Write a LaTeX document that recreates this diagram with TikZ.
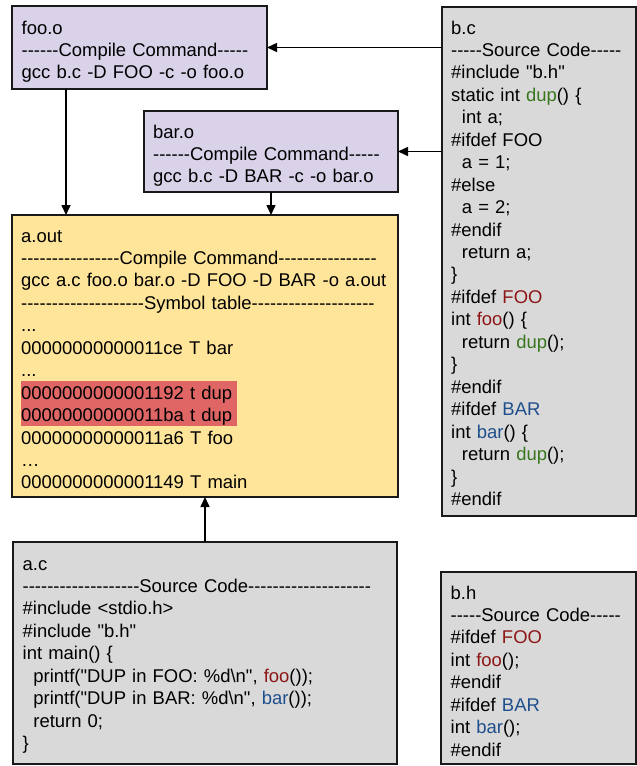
\documentclass[tikz,border=0pt]{standalone}
\usepackage{fontspec}
\setmainfont{Liberation Sans}[Ligatures=TeXOff]
\usetikzlibrary{arrows.meta,calc}
\definecolor{lav}{HTML}{D9D2E9}
\definecolor{yel}{HTML}{FFE599}
\definecolor{gry}{HTML}{D9D9D9}
\definecolor{hlred}{HTML}{E06666}
\definecolor{kred}{HTML}{8E1515}
\definecolor{kblue}{HTML}{1F4E8C}
\definecolor{kgreen}{HTML}{38761D}
\newcommand{\ind}{\hspace*{0.58em}}
\newcommand{\R}[1]{\textcolor{kred}{#1}}
\newcommand{\B}[1]{\textcolor{kblue}{#1}}
\newcommand{\G}[1]{\textcolor{kgreen}{#1}}
\begin{document}
\begin{tikzpicture}[x=1pt,y=-1pt,
  box/.style={draw=black!90,line width=1.6pt,rectangle,inner sep=0pt,outer sep=0pt},
  txt/.style={anchor=base west,inner sep=0pt,align=left,text width=#1,
    font=\fontsize{18.45}{22.45}\selectfont},
  arr/.style={line width=1.5pt,-{Triangle[length=10pt,width=9pt]}}]
\useasboundingbox (0,0) rectangle (637,766);
% boxes
\path[box,fill=lav] (12,6) rectangle (267,89) node[pos=0.5,inner sep=0,outer sep=0,minimum width=255pt,minimum height=83pt] (fooo) {};
\path[box,fill=lav] (144,111) rectangle (398,192) node[pos=0.5,inner sep=0,outer sep=0,minimum width=254pt,minimum height=81pt] (baro) {};
\path[box,fill=gry] (442,7) rectangle (636,516) node[pos=0.5,inner sep=0,outer sep=0,minimum width=194pt,minimum height=509pt] (bc) {};
\path[box,fill=yel] (12,215) rectangle (398,497) node[pos=0.5,inner sep=0,outer sep=0,minimum width=386pt,minimum height=282pt] (aout) {};
\path[box,fill=gry] (13,542) rectangle (397,764) node[pos=0.5,inner sep=0,outer sep=0,minimum width=384pt,minimum height=222pt] (ac) {};
\path[box,fill=gry] (441,572) rectangle (636,764) node[pos=0.5,inner sep=0,outer sep=0,minimum width=195pt,minimum height=192pt] (bh) {};
% highlight
\fill[hlred] (21,381) rectangle (237,426) node[pos=0.5,inner sep=0] (hl) {};
% texts
\node[txt=250pt] (foot) at (21.5,34) {foo.o\\------Compile Command-----\\gcc b.c -D FOO -c -o foo.o};
\node[txt=250pt] (bart) at (153,138) {bar.o\\------Compile Command-----\\gcc b.c -D BAR -c -o bar.o};
\node[txt=190pt] (bct) at (451,34) {b.c\\-----Source Code-----\\\#include "b.h"\\static int \G{dup}() \{\\\ind int a;\\\#ifdef FOO\\\ind a = 1;\\\#else\\\ind a = 2;\\\#endif\\\ind return a;\\\}\\\#ifdef \R{FOO}\\int \R{foo}() \{\\\ind return \G{dup}();\\\}\\\#endif\\\#ifdef \B{BAR}\\int \B{bar}() \{\\\ind return \G{dup}();\\\}\\\#endif};
\node[txt=380pt] (aoutt) at (21,242) {a.out\\----------------Compile Command----------------\\gcc a.c foo.o bar.o -D FOO -D BAR -o a.out\\--------------------Symbol table--------------------\\...\\00000000000011ce T bar\\...\\0000000000001192 t dup\\00000000000011ba t dup\\00000000000011a6 T foo\\…\\0000000000001149 T main};
\node[txt=380pt] (act) at (22.5,570) {a.c\\-------------------Source Code--------------------\\\#include <stdio.h>\\\#include "b.h"\\int main() \{\\\ind printf("DUP in FOO: \%d\textbackslash n", \R{foo}());\\\ind printf("DUP in BAR: \%d\textbackslash n", \B{bar}());\\\ind return 0;\\\}};
\node[txt=190pt] (bht) at (450.5,599) {b.h\\-----Source Code-----\\\#ifdef \R{FOO}\\int \R{foo}();\\\#endif\\\#ifdef \B{BAR}\\int \B{bar}();\\\#endif};
% arrows
\draw[arr] (bc.west |- fooo.east) -- (fooo.east);
\draw[arr] (bc.west |- baro.east) -- (baro.east);
\draw[arr] ([xshift=54pt]fooo.south west) -- ([xshift=54pt]aout.north west);
\draw[arr] (baro.south) -- (baro.south |- aout.north);
\draw[arr] (ac.north) -- (aout.south);
\end{tikzpicture}
\end{document}
